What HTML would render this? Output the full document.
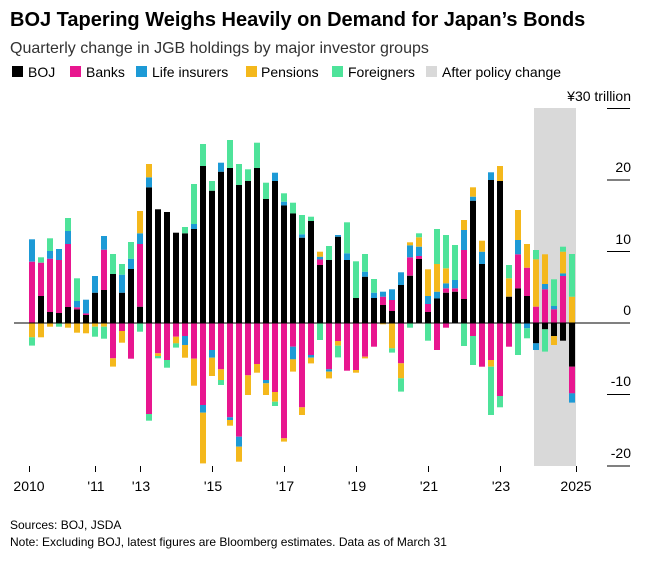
<!DOCTYPE html>
<html><head><meta charset="utf-8"><style>
body{margin:0;background:#fff;width:648px;height:563px;overflow:hidden;font-family:"Liberation Sans",sans-serif;}
svg{position:absolute;left:0;top:0}
</style></head><body>
<svg id="s" width="648" height="563" xmlns="http://www.w3.org/2000/svg" font-family="Liberation Sans, sans-serif">
<text x="10" y="26" font-size="20" font-weight="bold" fill="#000">BOJ Tapering Weighs Heavily on Demand for Japan’s Bonds</text>
<text x="10" y="53" font-size="16" fill="#333">Quarterly change in JGB holdings by major investor groups</text>
<g font-size="14" fill="#000">
<rect x="12" y="66" width="11" height="11" fill="#000"/><text x="28" y="77">BOJ</text>
<rect x="70" y="66" width="11" height="11" fill="#e8168f"/><text x="86" y="77">Banks</text>
<rect x="136" y="66" width="11" height="11" fill="#1d9ad6"/><text x="152" y="77">Life insurers</text>
<rect x="246" y="66" width="11" height="11" fill="#f4b81c"/><text x="261" y="77">Pensions</text>
<rect x="332" y="66" width="11" height="11" fill="#4ee39a"/><text x="348" y="77">Foreigners</text>
<rect x="426" y="66" width="11" height="11" fill="#d9d9d9"/><text x="442" y="77">After policy change</text>
</g>
<rect x="534" y="108" width="42" height="358" fill="#d9d9d9"/>
<g id="bars"></g>
<line x1="14" y1="323" x2="630" y2="323" stroke="#000" stroke-width="1"/>
<g font-size="14" fill="#000" text-anchor="end">
<text x="631" y="101">¥30 trillion</text>
<text x="631" y="172">20</text>
<text x="631" y="244">10</text>
<text x="631" y="315">0</text>
<text x="631" y="386">-10</text>
<text x="631" y="458">-20</text>
</g>
<g stroke="#000" stroke-width="1">
<line x1="607" y1="108.5" x2="630" y2="108.5"/>
<line x1="607" y1="180" x2="630" y2="180"/>
<line x1="607" y1="251.5" x2="630" y2="251.5"/>
<line x1="607" y1="394.5" x2="630" y2="394.5"/>
<line x1="607" y1="466" x2="630" y2="466"/>
<line x1="29.5" y1="466" x2="29.5" y2="472"/>
<line x1="95.5" y1="466" x2="95.5" y2="472"/>
<line x1="140.5" y1="466" x2="140.5" y2="472"/>
<line x1="212.5" y1="466" x2="212.5" y2="472"/>
<line x1="284.5" y1="466" x2="284.5" y2="472"/>
<line x1="356.5" y1="466" x2="356.5" y2="472"/>
<line x1="428.5" y1="466" x2="428.5" y2="472"/>
<line x1="500.5" y1="466" x2="500.5" y2="472"/>
<line x1="576.5" y1="466" x2="576.5" y2="472"/>
</g>
<g font-size="14" fill="#000" text-anchor="middle">
<text x="29" y="491">2010</text>
<text x="96" y="491">'11</text>
<text x="141" y="491">'13</text>
<text x="213" y="491">'15</text>
<text x="285" y="491">'17</text>
<text x="357" y="491">'19</text>
<text x="429" y="491">'21</text>
<text x="501" y="491">'23</text>
<text x="576" y="491">2025</text>
</g>
<text x="10" y="529" font-size="12" fill="#000">Sources: BOJ, JSDA</text>
<text x="10" y="546" font-size="12" fill="#000">Note: Excluding BOJ, latest figures are Bloomberg estimates. Data as of March 31</text>
</svg>
<script>
var C={k:"#000",p:"#e8168f",b:"#1d9ad6",y:"#f4b81c",g:"#4ee39a"};
var D=[
"p485 b418|y712 g737","k588 p488 g472|y712","k636 p476 b453 g415|y680","k639 p480 b447|g680",
"k621 p432 b393 g354|y683","k628 p622 b603 g535|y698","k645 p640 b599|y700","k578 b528|y680 g710",
"k570 p449 b408|y680 g716","k522 g462|p775 y800","k578 b524 g492|p693 y728","k507 b476 g426|p776",
"k620 p432 b400 y333|g695","k262 b232 y192|p942 g962","k328|p760 y768 g775","k336|p780 g803",
"k398|p710 y730 g743","k400 g381|p708 b735 y773","k387 b372 g252|p776 y857","k198 g132|p915 b938 y1090",
"k272 g243|p750 b773 y828","k215 b188|p808 y840 g855","k204 g120|p952 b960 y977","k255 g192|p1010 b1040 y1085",
"k243 g208|p826 y885","k204 g128|p792 y818","k297 g248|p840 b850 y885","k243 b218|p876 y905 g918",
"k316 b305 g280|p1015 y1025","k340 g308|p740 b778 y815","k413 b403 g345|p922 y945","k363 g350|p765 b773 y790",
"k495 p478 b470 y455|g720","k480 g438|p808 b815 y835","k410 b405|p723 y737 g772","k480 b460 g367|p812",
"k594 g484|p810 y818","k530 b515 g462|p770 y775","k594 b578 g537|p740","k615 p590 b575|y673",
"k633 p600 b568|y745 g758","k555 b517|p790 y835 g875","k527 p472 b436 y427|g683","k477 p468 b440 y412 g400|",
"k636 p612 b588 y508|g722","k595 b575 y492 g387|p750","k578 p565 b550 y505 g405|p683","k575 p565 b540 g435|",
"k597 p450 b390 y360|g738","k302 b290 y262|p708 g795","k492 b455 y422|p800","k240 b217|p780 y800 g945",
"k243 y198|p888 g922","k590 y535 g495|p740","k565 p463 b420 y330|g765","k588 p503 y432|b685 g715",
"p620 y478 g450|k730 b750","p568 b552 y463|k688 g755","p628 b618 g538|k708 y735","p528 b520 y455 g440|k722",
"y590 g462|k800 p880 b908"];
var h="";
D.forEach(function(s,i){
 var x=29+9*i,parts=s.split("|");
 [0,1].forEach(function(n){
  var prev=669;
  if(!parts[n])return;
  parts[n].split(" ").forEach(function(t){
   if(!t)return;
   var c=C[t[0]],v=+t.slice(1);
   var y0=100+Math.min(prev,v)/3,y1=100+Math.max(prev,v)/3;
   h+='<rect x="'+x+'" y="'+y0.toFixed(1)+'" width="6" height="'+(y1-y0).toFixed(1)+'" fill="'+c+'"/>';
   prev=v;
  });
 });
});
document.getElementById("bars").innerHTML=h;
</script>
</body></html>
